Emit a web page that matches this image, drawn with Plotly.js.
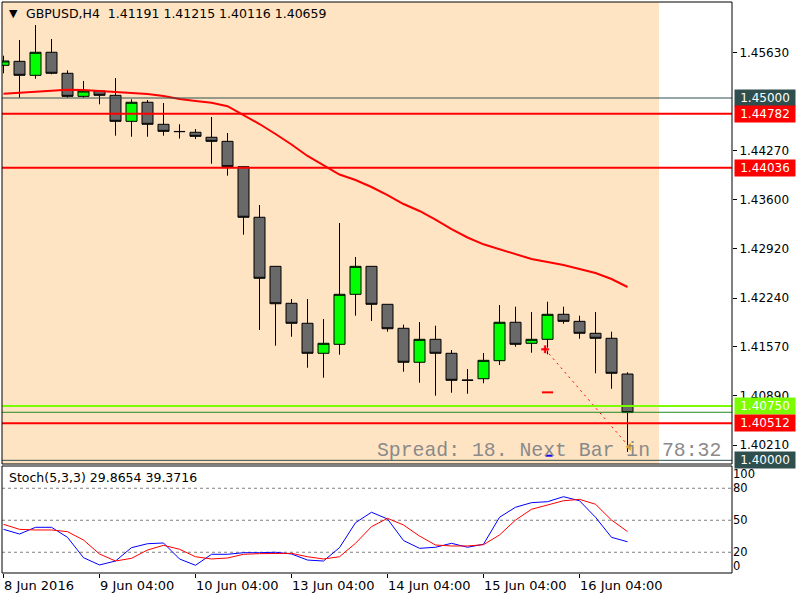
<!DOCTYPE html>
<html>
<head>
<meta charset="utf-8">
<script src="https://cdn.plot.ly/plotly-3.0.1.min.js"></script>
<style>html,body{margin:0;padding:0;background:#fff;}#chart{width:800px;height:600px;}</style>
</head>
<body>
<div id="chart"></div>
<script>
// ---- data (H4 bars, GBPUSD) ----
const opens  = [1.45451,1.45506,1.45313,1.45631,1.45341,1.45023,1.45097,1.45037,1.44678,1.44941,1.44637,1.44535,1.44527,1.44458,1.44402,1.44052,1.43354,1.42677,1.42167,1.41891,1.41477,1.41601,1.42291,1.42677,1.42153,1.41822,1.41353,1.41670,1.41477,1.41108,1.41126,1.41375,1.41905,1.41615,1.41670,1.42015,1.41918,1.41753,1.41684,1.41191];
const highs  = [1.45584,1.45800,1.46007,1.45814,1.45382,1.45235,1.45110,1.45276,1.44982,1.44972,1.44931,1.44637,1.44572,1.44738,1.44517,1.44062,1.43523,1.42682,1.42226,1.42226,1.41950,1.43275,1.42806,1.42682,1.42157,1.41872,1.41909,1.41858,1.41522,1.41260,1.41481,1.42143,1.42120,1.42047,1.42189,1.42120,1.41996,1.42047,1.41775,1.41215];
const lows   = [1.45341,1.45004,1.45266,1.45327,1.45004,1.45004,1.44913,1.44480,1.44466,1.44466,1.44480,1.44441,1.44434,1.44093,1.43928,1.43114,1.41798,1.41582,1.41706,1.41278,1.41140,1.41458,1.41996,1.41923,1.41775,1.41223,1.41071,1.40892,1.40933,1.40919,1.41063,1.41315,1.41568,1.41485,1.41463,1.41885,1.41678,1.41201,1.40988,1.40116];
const closes = [1.45511,1.45313,1.45631,1.45341,1.45023,1.45097,1.45037,1.44678,1.44941,1.44637,1.44540,1.44538,1.44471,1.44402,1.44052,1.43354,1.42512,1.42161,1.41891,1.41477,1.41615,1.42291,1.42677,1.42153,1.41816,1.41353,1.41670,1.41477,1.41104,1.41104,1.41380,1.41905,1.41601,1.41670,1.42015,1.41918,1.41753,1.41684,1.41201,1.40659];
const maValues = [1.45059,1.45073,1.45097,1.45106,1.45115,1.45110,1.45097,1.45083,1.45073,1.45055,1.45028,1.44986,1.44959,1.44935,1.44887,1.44765,1.44641,1.44503,1.44358,1.44200,1.44069,1.43944,1.43868,1.43772,1.43661,1.43537,1.43441,1.43323,1.43192,1.43075,1.42981,1.42912,1.42847,1.42778,1.42737,1.42695,1.42640,1.42585,1.42502,1.42392];
const stochK = [41.5,37.1,43.4,43.4,34.0,14.9,8.1,11.8,24.3,28.0,28.7,13.7,7.8,18.1,18.1,19.6,19.6,20.0,18.4,12.7,11.8,24.3,47.7,57.5,51.2,31.0,23.7,24.7,28.4,24.7,27.5,52.8,62.2,66.5,67.4,72.1,68.3,52.8,34.0,29.8654];
const stochD = [46.2,41.5,40.9,40.9,39.3,31.5,18.4,11.8,14.3,22.1,26.5,22.8,15.8,13.7,14.6,18.1,18.7,19.0,19.0,15.8,13.7,15.8,28.4,44.0,51.8,45.6,35.2,26.8,25.9,25.9,27.1,36.2,50.2,60.3,64.3,68.3,69.6,65.0,50.2,39.3716];

const dateTickIdx = [0,6,12,18,24,30,36];
const dateTickText = ['8 Jun 2016','9 Jun 04:00','10 Jun 04:00','13 Jun 04:00','14 Jun 04:00','15 Jun 04:00','16 Jun 04:00'];
const priceTicks = [1.45630,1.44270,1.43600,1.42920,1.42240,1.41570,1.40890,1.40210];
const stochLevels = [80,50,20];
const stochTickVals = [93.6,80,50,20,6.8];
const stochTickText = ['100','80','50','20','0'];

const levelPrices = [1.45000,1.44782,1.44036,1.40750,1.40663,1.40512,1.40000];
const labeledLevels = [1.45000,1.44782,1.44036,1.40750,1.40512,1.40000];

const tradeX = [33.85,39.1];
const tradeY = [1.41532,1.40188];
const markX = [34.0,34.1];
const markY = [1.40938,1.40064];

const headerText = 'GBPUSD,H4\u00a0 1.41191 1.41215 1.40116 1.40659';
const stochText = 'Stoch(5,3,3) 29.8654 39.3716';
const spreadText = 'Spread: 18. Next Bar in 78:32';

// ---- styles ----
const SLATE = '#2F4F4F', RED = '#FF0000', LGREEN = '#7CFC00', DGREEN = '#228B22';
const levelStyle = {
  '1.45000': {color: SLATE, width: 1},
  '1.44782': {color: RED, width: 2},
  '1.44036': {color: RED, width: 2},
  '1.40750': {color: LGREEN, width: 2},
  '1.40663': {color: DGREEN, width: 1},
  '1.40512': {color: RED, width: 2},
  '1.40000': {color: SLATE, width: 1}
};
const labelBg = {'1.45000': SLATE, '1.44782': RED, '1.44036': RED, '1.40750': LGREEN, '1.40512': RED, '1.40000': SLATE};

const idx = opens.map((_, i) => i);
const FONT = 'DejaVu Sans';

const traces = [
  {
    type: 'candlestick', x: idx, open: opens, high: highs, low: lows, close: closes,
    xaxis: 'x', yaxis: 'y', whiskerwidth: 0, hoverinfo: 'skip',
    increasing: {fillcolor: '#00FF00', line: {color: '#000', width: 1}},
    decreasing: {fillcolor: '#696969', line: {color: '#000', width: 1}}
  },
  {type: 'scatter', mode: 'lines', x: idx, y: maValues, xaxis: 'x', yaxis: 'y',
   line: {color: RED, width: 2}, hoverinfo: 'skip'},
  {type: 'scatter', mode: 'lines', x: tradeX, y: tradeY, xaxis: 'x', yaxis: 'y',
   line: {color: RED, width: 1, dash: '2px,4px'}, hoverinfo: 'skip'},
  {type: 'scatter', mode: 'markers', x: [tradeX[0]], y: [tradeY[0]], xaxis: 'x', yaxis: 'y',
   marker: {symbol: 'cross', size: 7, color: RED, line: {color: '#fff', width: 0.5}}, hoverinfo: 'skip'},
  {type: 'scatter', mode: 'markers', x: [tradeX[1]], y: [tradeY[1]], xaxis: 'x', yaxis: 'y',
   marker: {symbol: 'triangle-left', size: 7, color: '#DAA520'}, hoverinfo: 'skip'},
  {type: 'scatter', mode: 'markers', x: [markX[0]], y: [markY[0]], xaxis: 'x', yaxis: 'y',
   marker: {symbol: 'line-ew', size: 8, line: {color: RED, width: 2}}, hoverinfo: 'skip'},
  {type: 'scatter', mode: 'markers', x: [markX[1]], y: [markY[1]], xaxis: 'x', yaxis: 'y',
   marker: {symbol: 'line-ew', size: 5, line: {color: '#0000FF', width: 2}}, hoverinfo: 'skip'},
  {type: 'scatter', mode: 'lines', x: idx, y: stochK, xaxis: 'x', yaxis: 'y2',
   line: {color: '#0000FF', width: 1}, hoverinfo: 'skip'},
  {type: 'scatter', mode: 'lines', x: idx, y: stochD, xaxis: 'x', yaxis: 'y2',
   line: {color: RED, width: 1}, hoverinfo: 'skip'}
];

const shapes = [];
shapes.push({type: 'rect', xref: 'x', yref: 'y domain', x0: -1, x1: 40.97, y0: 0, y1: 1,
  fillcolor: '#FFE4C4', line: {width: 0}, layer: 'below'});
levelPrices.forEach(p => {
  const st = levelStyle[p.toFixed(5)];
  shapes.push({type: 'line', xref: 'paper', yref: 'y', x0: 0, x1: 1, y0: p, y1: p,
    line: {color: st.color, width: st.width}, layer: 'above'});
});
stochLevels.forEach(v => {
  shapes.push({type: 'line', xref: 'paper', yref: 'y2', x0: 0, x1: 1, y0: v, y1: v,
    line: {color: '#808080', width: 1, dash: '3px,3px'}, layer: 'below'});
});
shapes.push({type: 'rect', xref: 'paper', yref: 'y domain', x0: 0, x1: 1, y0: 0, y1: 1,
  line: {color: '#000', width: 1}, layer: 'above'});
shapes.push({type: 'rect', xref: 'paper', yref: 'y2 domain', x0: 0, x1: 1, y0: 0, y1: 1,
  line: {color: '#000', width: 1}, layer: 'above'});

const annotations = [];
labeledLevels.forEach(p => {
  annotations.push({xref: 'paper', yref: 'y', x: 1.0027, y: p, xanchor: 'left', yanchor: 'middle',
    text: p.toFixed(5), showarrow: false, bgcolor: labelBg[p.toFixed(5)],
    font: {family: FONT, size: 12, color: '#fff'}, width: 58, height: 14, borderpad: 1, align: 'center'});
});
annotations.push({xref: 'paper', yref: 'paper', x: 0.0075, y: 0.9795, xanchor: 'left', yanchor: 'middle',
  text: '\u25BC', showarrow: false, font: {family: FONT, size: 11, color: '#000'}});
annotations.push({xref: 'paper', yref: 'paper', x: 0.0301, y: 0.979, xanchor: 'left', yanchor: 'middle',
  text: headerText, showarrow: false, font: {family: FONT, size: 12.5, color: '#000'}});
annotations.push({xref: 'paper', yref: 'paper', x: 0.0068, y: 0.1676, xanchor: 'left', yanchor: 'middle',
  text: stochText, showarrow: false, font: {family: FONT, size: 12.5, color: '#000'}});
annotations.push({xref: 'paper', yref: 'paper', x: 0.9877, y: 0.2137, xanchor: 'right', yanchor: 'middle',
  text: spreadText, showarrow: false, font: {family: 'Liberation Mono', size: 19.8, color: '#8a8a8a'}});

const layout = {
  width: 800, height: 600,
  margin: {l: 2, r: 68, t: 2, b: 27},
  paper_bgcolor: '#fff', plot_bgcolor: '#fff',
  showlegend: false,
  font: {family: FONT, size: 12, color: '#000'},
  boxgap: 0.3125, boxgroupgap: 0,
  xaxis: {range: [-0.094, 45.53], anchor: 'y2', showgrid: false, zeroline: false,
    rangeslider: {visible: false}, tickmode: 'array', tickvals: dateTickIdx, ticktext: dateTickText,
    ticks: 'outside', ticklen: 4, tickcolor: '#000', ticklabelposition: 'outside right',
    showline: false, tickfont: {family: FONT, size: 13, color: '#000'}},
  yaxis: {domain: [0.19089, 1], range: [1.399492, 1.463248], side: 'right', anchor: 'x',
    tickmode: 'array', tickvals: priceTicks, ticktext: priceTicks.map(v => v.toFixed(5)),
    ticks: 'outside', ticklen: 4, tickcolor: '#000', showgrid: false, zeroline: false, showline: false,
    tickfont: {family: FONT, size: 12, color: '#000'}},
  yaxis2: {domain: [0, 0.18739], range: [0.56, 100.87], side: 'right', anchor: 'x',
    tickmode: 'array', tickvals: stochTickVals, ticktext: stochTickText, ticks: '',
    showgrid: false, zeroline: false, showline: false,
    tickfont: {family: FONT, size: 11.5, color: '#000'}},
  shapes: shapes,
  annotations: annotations
};

Plotly.newPlot('chart', traces, layout, {staticPlot: true, displayModeBar: false});
</script>
</body>
</html>
